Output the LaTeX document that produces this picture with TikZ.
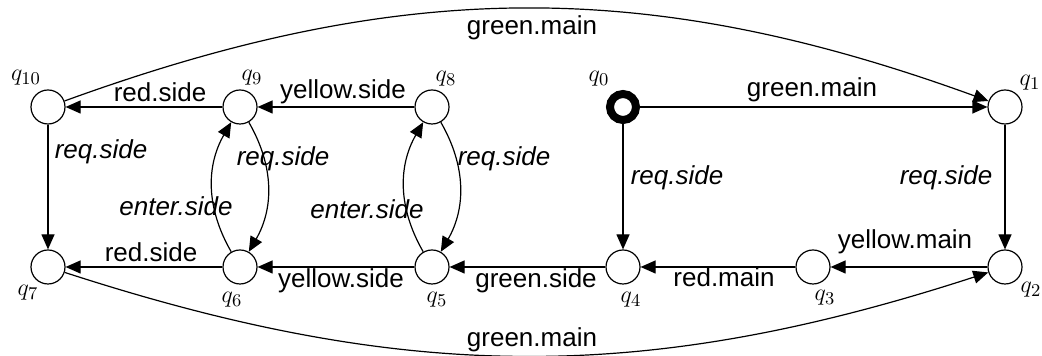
\documentclass[tikz,border=0pt]{standalone}
\usepackage{fontspec}
\setmainfont{Liberation Sans}
\usetikzlibrary{arrows.meta}
\begin{document}
\begin{tikzpicture}[x=0.5pt,y=0.5pt,
  state/.style={circle,draw,line width=0.6pt,minimum size=17pt,inner sep=0pt},
  init/.style={circle,draw,line width=4pt,minimum size=13pt,inner sep=0pt},
  nm/.style={inner sep=0pt,font=\fontsize{13}{15}\selectfont},
  lab/.style={inner sep=0pt,font=\fontsize{13}{15}\selectfont},
  ilab/.style={inner sep=0pt,font=\fontsize{13}{15}\selectfont\itshape},
  edge/.style={line width=0.6pt,-{Triangle[length=7.5pt,width=6.5pt]}}
]
\useasboundingbox (0,0) rectangle (1042,356);
% states
\node[state] (q10) at (48,249) {};
\node[state] (q9)  at (240,249) {};
\node[state] (q8)  at (432,249) {};
\node[init]  (q0)  at (623,249) {};
\node[state] (q1)  at (1005,249) {};
\node[state] (q7)  at (48,89) {};
\node[state] (q6)  at (240,89) {};
\node[state] (q5)  at (432,89) {};
\node[state] (q4)  at (623,89) {};
\node[state] (q3)  at (813,89) {};
\node[state] (q2)  at (1005,89) {};
% state names
\node[nm] (n10) at (26,278) {$q_{10}$};
\node[nm] (n9)  at (252,278) {$q_9$};
\node[nm] (n8)  at (446,277) {$q_8$};
\node[nm] (n0)  at (599,277) {$q_0$};
\node[nm] (n1)  at (1030,273) {$q_1$};
\node[nm] (n7)  at (28,63) {$q_7$};
\node[nm] (n6)  at (232,56) {$q_6$};
\node[nm] (n5)  at (437,56) {$q_5$};
\node[nm] (n4)  at (631,56) {$q_4$};
\node[nm] (n3)  at (825,58) {$q_3$};
\node[nm] (n2)  at (1031,66) {$q_2$};
% edges
\draw[edge] (q0) -- (q1);
\draw[edge] (q0) -- (q4);
\draw[edge] (q1) -- (q2);
\draw[edge] (q2) -- (q3);
\draw[edge] (q3) -- (q4);
\draw[edge] (q4) -- (q5);
\draw[edge] (q5) -- (q6);
\draw[edge] (q6) -- (q7);
\draw[edge] (q8) -- (q9);
\draw[edge] (q9) -- (q10);
\draw[edge] (q10) -- (q7);
\draw[edge] (q9) to[bend left=30] (q6);
\draw[edge] (q6) to[bend left=30] (q9);
\draw[edge] (q8) to[bend left=30] (q5);
\draw[edge] (q5) to[bend left=30] (q8);
\draw[edge] (q10) to[bend left=20] (q1);
\draw[edge] (q7) to[bend right=18] (q2);
% edge labels
\node[lab]  (l01)  at (812,266) {green.main};
\node[ilab] (l04)  at (677,178) {req.side};
\node[ilab] (l12)  at (946,178) {req.side};
\node[lab]  (l23)  at (905,114) {yellow.main};
\node[lab]  (l34)  at (724,79)  {red.main};
\node[lab]  (l45)  at (536,75)  {green.side};
\node[lab]  (l56)  at (341,75)  {yellow.side};
\node[lab]  (l67)  at (151,104) {red.side};
\node[lab]  (l910) at (160,264) {red.side};
\node[lab]  (l89)  at (343,264) {yellow.side};
\node[ilab] (l107) at (101,204) {req.side};
\node[ilab] (l96)  at (283,197) {req.side};
\node[ilab] (l69)  at (176,150) {enter.side};
\node[ilab] (l58)  at (367,147) {enter.side};
\node[ilab] (l85)  at (504,197) {req.side};
\node[lab]  (l101) at (532,328) {green.main};
\node[lab]  (l72)  at (532,16)  {green.main};
\end{tikzpicture}
\end{document}
